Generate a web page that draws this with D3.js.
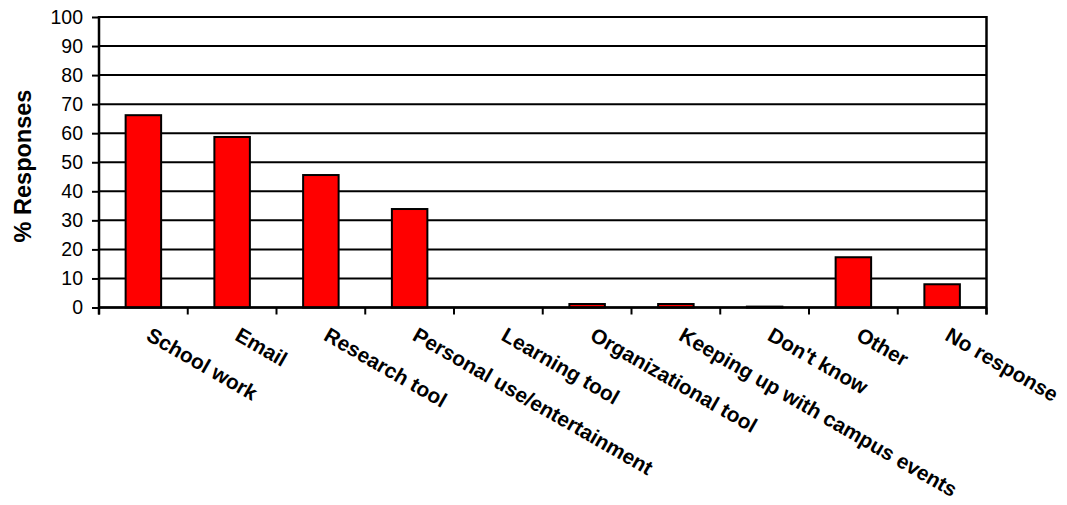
<!DOCTYPE html>
<html>
<head>
<meta charset="utf-8">
<script src="https://cdn.jsdelivr.net/npm/d3@7"></script>
<style>
  html, body { margin: 0; padding: 0; background: #fff; }
  svg { display: block; }
  text { font-family: "Liberation Sans", Arial, sans-serif; fill: #000; }
</style>
</head>
<body>
<svg id="chart" width="1067" height="505"></svg>
<script>
// Survey responses: how the device is used (% of respondents)
const categories = [
  "School work", "Email", "Research tool", "Personal use/entertainment",
  "Learning tool", "Organizational tool", "Keeping up with campus events",
  "Don't know", "Other", "No response"
];
const responses = [66.2, 58.7, 45.6, 33.9, 0, 1.2, 1.2, 0.3, 17.3, 8.0];
const yTicks = [0, 10, 20, 30, 40, 50, 60, 70, 80, 90, 100];
const yTitle = "% Responses";

const svg = d3.select("#chart");
const plot = { left: 99, right: 986.5, top: 17, bottom: 307.5 };

const x = d3.scaleBand()
  .domain(categories)
  .range([plot.left, plot.right])
  .paddingInner(0.6)
  .paddingOuter(0.3);

const y = d3.scaleLinear()
  .domain([0, 100])
  .range([plot.bottom, plot.top]);

// horizontal gridlines
svg.append("g")
  .selectAll("line")
  .data(yTicks)
  .join("line")
  .attr("x1", plot.left)
  .attr("x2", plot.right)
  .attr("y1", d => y(d))
  .attr("y2", d => y(d))
  .attr("stroke", "#000")
  .attr("stroke-width", 2);

// right frame edge
svg.append("line")
  .attr("x1", plot.right).attr("x2", plot.right)
  .attr("y1", plot.top - 1).attr("y2", plot.bottom + 7)
  .attr("stroke", "#000").attr("stroke-width", 2.5);

// bars
svg.append("g")
  .selectAll("rect")
  .data(categories.map((c, i) => ({ c, v: responses[i] })))
  .join("rect")
  .attr("x", d => x(d.c))
  .attr("width", x.bandwidth())
  .attr("y", d => y(d.v))
  .attr("height", d => y(0) - y(d.v))
  .attr("fill", "#ff0000")
  .attr("stroke", "#000")
  .attr("stroke-width", 2);

// y axis
const yAxis = svg.append("g")
  .attr("transform", `translate(${plot.left},0)`)
  .call(d3.axisLeft(y).tickValues(yTicks).tickSize(7).tickPadding(9).tickFormat(d3.format("d")));
yAxis.select(".domain").attr("stroke", "#000").attr("stroke-width", 2.5)
  .attr("d", `M0,${plot.top - 1}V${plot.bottom + 7}`);
yAxis.selectAll(".tick line").attr("stroke", "#000").attr("stroke-width", 2);
yAxis.selectAll(".tick text")
  .style("font-family", "'Liberation Sans', Arial, sans-serif")
  .style("font-size", "19.5px")
  .attr("fill", "#000");

// x axis line and boundary ticks
const boundaries = d3.range(categories.length + 1)
  .map(i => plot.left + i * x.step());
svg.append("line")
  .attr("x1", plot.left).attr("x2", plot.right)
  .attr("y1", plot.bottom).attr("y2", plot.bottom)
  .attr("stroke", "#000").attr("stroke-width", 2.5);
svg.append("g")
  .selectAll("line")
  .data(boundaries)
  .join("line")
  .attr("x1", d => d).attr("x2", d => d)
  .attr("y1", plot.bottom).attr("y2", plot.bottom + 7)
  .attr("stroke", "#000").attr("stroke-width", 2);

// rotated category labels
svg.append("g")
  .selectAll("text")
  .data(categories)
  .join("text")
  .attr("transform", d => `translate(${x(d) + x.bandwidth() / 2 + 9},${plot.bottom + 19}) rotate(30)`)
  .attr("dy", "0.71em")
  .attr("text-anchor", "start")
  .style("font-size", "20.8px")
  .style("font-weight", "bold")
  .text(d => d);

// y axis title
svg.append("text")
  .attr("transform", `translate(31,166) rotate(-90)`)
  .attr("text-anchor", "middle")
  .style("font-size", "23.5px")
  .style("font-weight", "bold")
  .text(yTitle);
</script>
</body>
</html>
